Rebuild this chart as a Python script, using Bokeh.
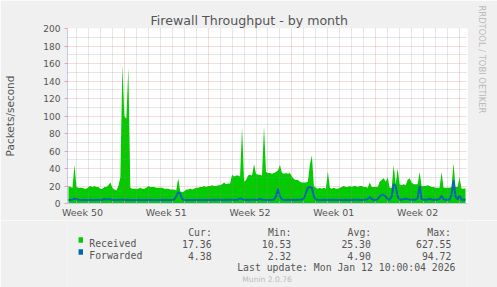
import math
from bokeh.plotting import figure
from bokeh.layouts import column
from bokeh.models import Range1d, FixedTicker, Title
from bokeh.core.properties import value
from bokeh.embed import file_html
from bokeh.resources import INLINE

# ---------------- data (packets/second, one sample every 4 hours) ----------------
received = [
    20, 19, 18, 44, 19, 18, 18, 18, 17, 17,
    19, 20, 19, 20, 19, 19, 17, 17, 19, 19,
    21, 24, 18, 16, 15, 20, 30, 158, 100, 97,
    155, 18, 17, 17, 17, 17, 18, 17, 17, 18,
    20, 19, 19, 19, 18, 18, 18, 18, 17, 17,
    17, 16, 16, 16, 15, 29, 14, 13, 14, 16,
    16, 17, 16, 17, 18, 18, 19, 19, 20, 19,
    20, 20, 21, 20, 20, 21, 21, 22, 24, 22,
    23, 23, 33, 31, 32, 32, 31, 87, 25, 27,
    32, 33, 32, 45, 34, 33, 33, 32, 88, 36,
    35, 35, 34, 35, 36, 38, 44, 35, 34, 35,
    34, 35, 31, 28, 27, 27, 25, 24, 24, 24,
    25, 45, 55, 20, 18, 17, 18, 17, 18, 17,
    37, 18, 17, 18, 17, 17, 18, 19, 20, 19,
    19, 20, 19, 20, 20, 19, 20, 20, 19, 19,
    18, 24, 19, 19, 19, 19, 25, 27, 29, 25,
    30, 18, 18, 44, 22, 40, 22, 21, 22, 21,
    27, 29, 24, 22, 22, 22, 36, 20, 20, 20,
    21, 20, 19, 19, 18, 18, 18, 36, 18, 18,
    18, 18, 19, 46, 19, 19, 30, 17, 17, 17.4,
]
forwarded = [
    4.2, 4.1, 4.3, 5.5, 5.0, 4.2, 4.1, 4.0, 4.2, 4.1,
    4.0, 4.2, 4.1, 4.0, 4.2, 4.1, 4.0, 4.3, 5.2, 4.4,
    5.0, 4.6, 4.2, 4.1, 4.0, 4.2, 4.3, 4.4, 4.2, 4.1,
    4.2, 4.0, 4.1, 4.0, 4.1, 4.2, 4.0, 4.1, 4.0, 4.1,
    4.2, 4.1, 4.0, 4.1, 4.0, 4.1, 4.2, 4.1, 4.0, 4.2,
    4.1, 4.0, 4.2, 4.6, 8.0, 13.0, 11.0, 5.0, 4.0, 3.8,
    3.9, 4.0, 4.1, 4.0, 4.2, 4.1, 4.0, 4.1, 4.2, 4.1,
    4.2, 4.1, 4.0, 4.2, 4.1, 4.3, 4.2, 4.1, 4.0, 4.2,
    4.1, 4.2, 4.3, 4.1, 4.2, 4.4, 6.0, 5.0, 4.2, 4.1,
    4.2, 4.1, 4.3, 4.2, 4.1, 4.2, 5.2, 4.4, 4.2, 4.1,
    4.2, 4.1, 4.2, 4.5, 8.0, 17.0, 8.0, 4.5, 4.2, 4.1,
    4.2, 4.1, 4.0, 4.2, 4.1, 4.2, 4.3, 4.5, 6.0, 12.0,
    18.0, 19.0, 18.0, 8.0, 4.5, 4.2, 4.1, 4.0, 4.2, 4.1,
    4.3, 4.1, 4.0, 4.2, 4.1, 4.0, 4.2, 4.1, 4.0, 4.2,
    4.1, 4.0, 4.2, 4.1, 4.3, 4.2, 4.1, 4.0, 4.2, 4.5,
    5.0, 7.5, 4.8, 4.2, 4.1, 5.0, 8.0, 10.0, 10.0, 8.0,
    5.0, 4.3, 8.0, 22.0, 20.0, 8.0, 4.5, 4.3, 5.0, 5.5,
    5.0, 4.6, 4.3, 4.2, 4.4, 6.0, 20.0, 5.0, 4.3, 4.2,
    4.5, 5.5, 4.6, 4.3, 4.2, 4.4, 5.0, 9.0, 4.8, 4.3,
    4.2, 4.5, 10.0, 26.0, 8.0, 4.5, 9.0, 4.6, 4.4, 4.38,
]
first_hour = 56          # hours after Mon 8 Dec 2025 00:00
step_hours = 4
times = [(first_hour + step_hours * i) / 24 for i in range(len(received))]

week_centers = [3.5, 10.5, 17.5, 24.5, 31.5]
week_labels = ["Week 50", "Week 51", "Week 52", "Week 01", "Week 02"]
week_starts = [7, 14, 21, 28, 35]
day_lines = [d for d in range(3, 36) if d not in week_starts]
y_ticks = list(range(0, 201, 20))
y_major_grid = list(range(20, 201, 20))
y_minor_grid = list(range(10, 200, 20))

title_text = "Firewall Throughput - by month"
y_label = "Packets/second"
legend_series = ["Received", "Forwarded"]
legend_colors = ["#00CC00", "#0066B3"]
stat_headers = ["Cur:", "Min:", "Avg:", "Max:"]
stats = [["17.36", "10.53", "25.30", "627.55"],
         ["4.38", "2.32", "4.90", "94.72"]]
last_update = "Last update: Mon Jan 12 10:00:04 2026"
version_text = "Munin 2.0.76"
side_text = "RRDTOOL / TOBI OETIKER"

# ---------------- layout ----------------
W = 497
HA, HB = 220, 67
FL, FT, FW, FH = 67, 28, 401, 175
x0 = 2.25
x1 = x0 + FW / 12.0
BG = "#F0F0F0"
TXT = "#555555"

p = figure(width=W, height=HA, output_backend="svg", toolbar_location=None,
           x_range=Range1d(x0, x1), y_range=Range1d(0, 200),
           min_border_left=FL, min_border_right=W - FL - FW,
           min_border_top=FT, min_border_bottom=HA - FT - FH)
p.title.text = title_text
p.title.align = "left"
p.title.offset = 83
p.title.text_font = "DejaVu Sans"
p.title.text_font_size = "12.6px"
p.title.text_font_style = "normal"
p.title.text_color = TXT
p.title.standoff = 2
p.background_fill_color = "white"
p.border_fill_color = BG
p.outline_line_color = None

p.varea(x=times, y1=0, y2=received, color="#00CC00")
p.line(x=times, y=forwarded, color="#0066B3", line_width=2)

# grids drawn over the data, dotted, like rrdtool
for g in (p.xgrid, p.ygrid):
    g.level = "overlay"
    g.grid_line_color = "#E06060"
    g.grid_line_alpha = 0.45
    g.grid_line_dash = "1 1"
    g.minor_grid_line_color = "#909090"
    g.minor_grid_line_alpha = 0.45
    g.minor_grid_line_dash = "1 1"
p.xgrid.ticker = FixedTicker(ticks=week_starts, minor_ticks=day_lines)
p.ygrid.ticker = FixedTicker(ticks=y_major_grid, minor_ticks=y_minor_grid)

axis_col = "#C8C8EE"
xa = p.xaxis[0]
xa.ticker = FixedTicker(ticks=week_centers, minor_ticks=day_lines + week_starts)
xa.major_label_overrides = dict(zip(week_centers, week_labels))
xa.major_tick_line_color = None
xa.major_tick_in = 0
xa.major_tick_out = 0
xa.minor_tick_in = 2
xa.minor_tick_out = 0
xa.minor_tick_line_color = "#BBBBBB"
xa.axis_line_color = axis_col
xa.major_label_standoff = 3
xa.major_label_text_font = "DejaVu Sans"
xa.major_label_text_font_size = "9.5px"
xa.major_label_text_color = TXT

ya = p.yaxis[0]
ya.ticker = FixedTicker(ticks=y_ticks)
ya.major_tick_in = 0
ya.major_tick_out = 3
ya.major_tick_line_color = "#F0A0A0"
ya.minor_tick_line_color = None
ya.axis_line_color = axis_col
ya.major_label_standoff = 4
ya.major_label_text_font = "DejaVu Sans"
ya.major_label_text_font_size = "9px"
ya.major_label_text_color = TXT
ya.axis_label = y_label
ya.axis_label_text_font = "DejaVu Sans"
ya.axis_label_text_font_size = "10.5px"
ya.axis_label_text_font_style = "normal"
ya.axis_label_text_color = TXT
ya.axis_label_standoff = 24

side = Title(text=side_text, align="left", offset=-23, standoff=18,
             text_font="DejaVu Sans", text_font_size="8.4px",
             text_font_style="normal", text_color="#BBBBBB")
p.add_layout(side, "right")

# ---------------- legend strip (canvas pixel coordinates, y downwards) ----------------
q = figure(width=W, height=HB, output_backend="svg", toolbar_location=None,
           x_range=Range1d(0, W), y_range=Range1d(HA + HB, HA),
           x_axis_location=None, y_axis_location=None,
           min_border_left=0, min_border_right=0, min_border_top=0, min_border_bottom=0)
q.title.visible = False
q.background_fill_color = BG
q.border_fill_color = BG
q.outline_line_color = None
q.xgrid.visible = False
q.ygrid.visible = False

mono = value("DejaVu Sans Mono")
fs = value("9.8px")
header_x = [150, 249, 348, 447]
value_x = [179, 278, 377, 477]
row_y = [243.0, 255.2]

q.text(x=header_x, y=[231.6] * 4, text=stat_headers, text_font=mono, text_font_size=fs,
       text_color=TXT, text_align="left", text_baseline="alphabetic")
q.rect(x=[16.5, 16.5], y=[ry - 3.6 for ry in row_y], width=5.5, height=5.5,
       fill_color=legend_colors, line_color=None)
q.text(x=[27, 27], y=row_y, text=legend_series, text_font=mono, text_font_size=fs,
       text_color=TXT, text_align="left", text_baseline="alphabetic")
for ry, vals in zip(row_y, stats):
    q.text(x=value_x, y=[ry] * 4, text=vals, text_font=mono, text_font_size=fs,
           text_color=TXT, text_align="right", text_baseline="alphabetic")
q.text(x=[482], y=[267.3], text=[last_update], text_font=mono, text_font_size=fs,
       text_color=TXT, text_align="right", text_baseline="alphabetic")
q.text(x=[248], y=[278.6], text=[version_text], text_font=value("DejaVu Sans"),
       text_font_size=value("7.6px"), text_color="#BBBBBB", text_align="center",
       text_baseline="alphabetic")

layout = column(p, q, spacing=0)
open("out.html", "w").write(file_html(layout, INLINE))
